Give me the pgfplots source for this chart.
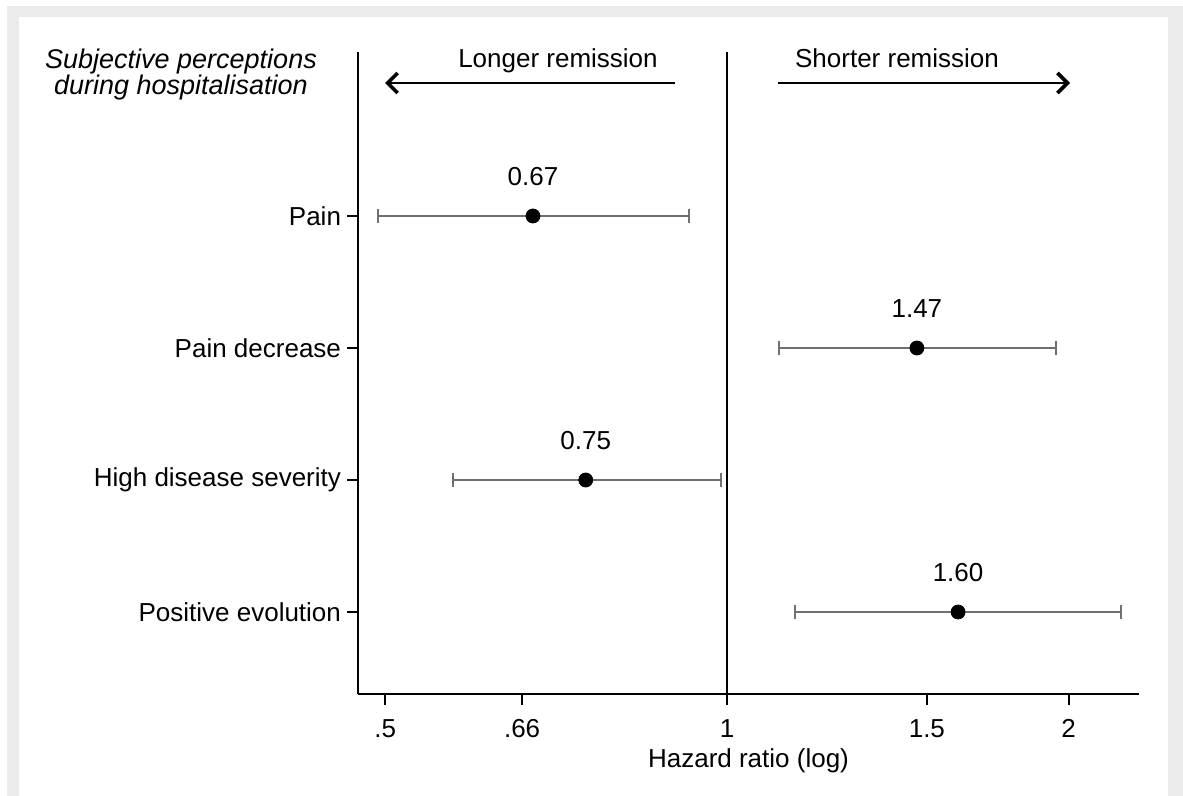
\documentclass[border=0pt]{standalone}
\usepackage{fontspec}
\setmainfont{Liberation Sans}
\usepackage{pgfplots}
\usepackage{pgfplotstable}
\pgfplotsset{compat=1.18}
\usetikzlibrary{arrows.meta}
\definecolor{bggray}{RGB}{235,235,235}
\definecolor{cigray}{RGB}{112,112,112}

\pgfplotstableread{
y est lo hi lab
4 0.6747 0.4926 0.9258 0.67
3 1.470 1.111 1.949 1.47
2 0.751 0.5736 0.988 0.75
1 1.598 1.148 2.224 1.60
}\hrdata

\begin{document}
\fontsize{13pt}{15.6pt}\selectfont
\begin{tikzpicture}
\useasboundingbox (0,0) rectangle (591.5pt,-398pt);
\fill[white] (0,0) rectangle (591.5pt,-398pt);
\fill[bggray] (3.5pt,-3pt) rectangle (591.5pt,-398pt);
\fill[white] (9.5pt,-8.5pt) rectangle (584pt,-398pt);

\node[anchor=base, font=\fontsize{13.5pt}{16pt}\selectfont\itshape, inner sep=0pt] at (90.5pt,-34.5pt) {Subjective perceptions};
\node[anchor=base, font=\fontsize{13.5pt}{16pt}\selectfont\itshape, inner sep=0pt] at (90.5pt,-47.5pt) {during hospitalisation};

\node[anchor=base, inner sep=0pt] at (279pt,-34pt) {Longer remission};
\node[anchor=base, inner sep=0pt] at (448.5pt,-34pt) {Shorter remission};
\draw[line width=1.3pt, -{Straight Barb[length=5pt,width=10pt,line width=1.8pt]}] (337.5pt,-41.5pt) -- (192.5pt,-41.5pt);
\draw[line width=1.3pt, -{Straight Barb[length=5pt,width=10pt,line width=1.8pt]}] (389pt,-41.5pt) -- (535pt,-41.5pt);

\begin{axis}[
  at={(179pt,-347pt)}, anchor=south west,
  scale only axis, width=390.5pt, height=321pt,
  xmode=log,
  xmin=0.4731, xmax=2.3065, ymin=0.3788, ymax=5.2424,
  axis x line*=bottom, axis y line*=left,
  axis line style={line width=1pt, black},
  xtick={0.5,0.66,1,1.5,2}, xticklabels={.5,.66,1,1.5,2},
  minor xtick={},
  ytick={1,2,3,4},
  yticklabels={Positive evolution,High disease severity,Pain decrease,Pain},
  xticklabel style={yshift=-2.5pt, text height=9.4pt, text depth=0pt},
  yticklabel style={xshift=1.5pt},
  tick align=outside, major tick length=5.5pt,
  tick style={line width=1pt, black},
  xlabel={Hazard ratio (log)},
  xlabel style={inner sep=0pt, anchor=north, yshift=-1pt},
  clip=false,
  /pgf/number format/assume math mode=true,
]
\addplot[black, line width=0.9pt, forget plot] coordinates {(1,0.3788) (1,5.2424)};
\addplot[cigray, line width=1.2pt, mark=|, mark size=3.5pt, mark options={solid, line width=1.2pt}] coordinates {(0.4926,4) (0.9258,4)};
\addplot[cigray, line width=1.2pt, mark=|, mark size=3.5pt, mark options={solid, line width=1.2pt}] coordinates {(1.111,3) (1.949,3)};
\addplot[cigray, line width=1.2pt, mark=|, mark size=3.5pt, mark options={solid, line width=1.2pt}] coordinates {(0.5736,2) (0.988,2)};
\addplot[cigray, line width=1.2pt, mark=|, mark size=3.5pt, mark options={solid, line width=1.2pt}] coordinates {(1.148,1) (2.224,1)};
\addplot[only marks, mark=*, mark size=3.5pt, black,
  nodes near coords, point meta=explicit symbolic,
  every node near coord/.append style={anchor=center, yshift=19.5pt, text=black}]
  table[x=est, y=y, meta=lab] {\hrdata};
\end{axis}
\end{tikzpicture}
\end{document}
